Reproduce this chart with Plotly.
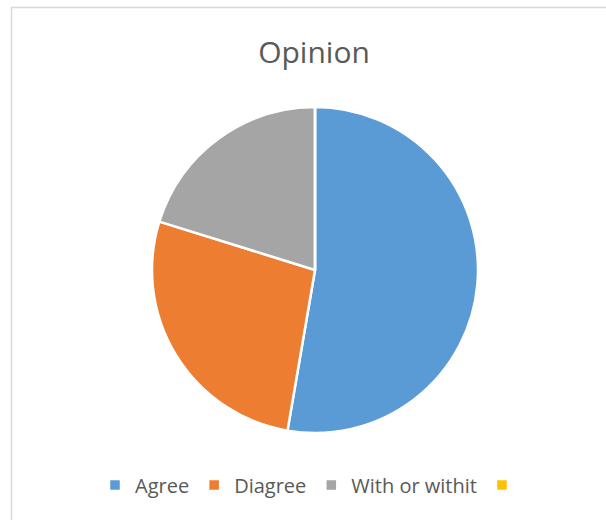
import plotly.graph_objects as go

labels = ["Agree", "Diagree", "With or withit", " "]
values = [52.7, 27.1, 20.2, 0]
colors = ["#5B9BD5", "#ED7D31", "#A5A5A5", "#FFC000"]

W, H = 606, 520
cx, cy, r = 315, 270, 163

fig = go.Figure(go.Pie(
    labels=labels,
    values=values,
    sort=False,
    direction="clockwise",
    rotation=0,
    marker=dict(colors=colors, line=dict(color="white", width=2.5)),
    textinfo="none",
    hoverinfo="label+value",
    domain=dict(x=[(cx - r) / W, (cx + r) / W], y=[1 - (cy + r) / H, 1 - (cy - r) / H]),
    showlegend=True,
))

fig.update_layout(
    width=W, height=H,
    margin=dict(l=0, r=0, t=0, b=0),
    paper_bgcolor="white",
    plot_bgcolor="white",
    font=dict(family="Open Sans, sans-serif", color="#595959"),
    title=dict(text="Opinion", x=314 / W, xanchor="center", y=1 - 52 / H, yanchor="middle",
               font=dict(size=30, color="#595959")),
    legend=dict(orientation="h", x=314 / W, xanchor="center", y=1 - 485 / H, yanchor="middle",
                font=dict(size=20, color="#595959"), itemwidth=30, traceorder="normal"),
    shapes=[
        dict(type="line", xref="paper", yref="paper", x0=11 / W, x1=1.02, y0=1 - 7.5 / H, y1=1 - 7.5 / H,
             line=dict(color="#D9D9D9", width=1.5)),
        dict(type="line", xref="paper", yref="paper", x0=11.5 / W, x1=11.5 / W, y0=1 - 7 / H, y1=-0.02,
             line=dict(color="#D9D9D9", width=1.5)),
    ],
)

fig.write_html("out.html", config={"displayModeBar": False},
               post_script="document.body.style.margin='0';document.body.style.overflow='hidden';")
